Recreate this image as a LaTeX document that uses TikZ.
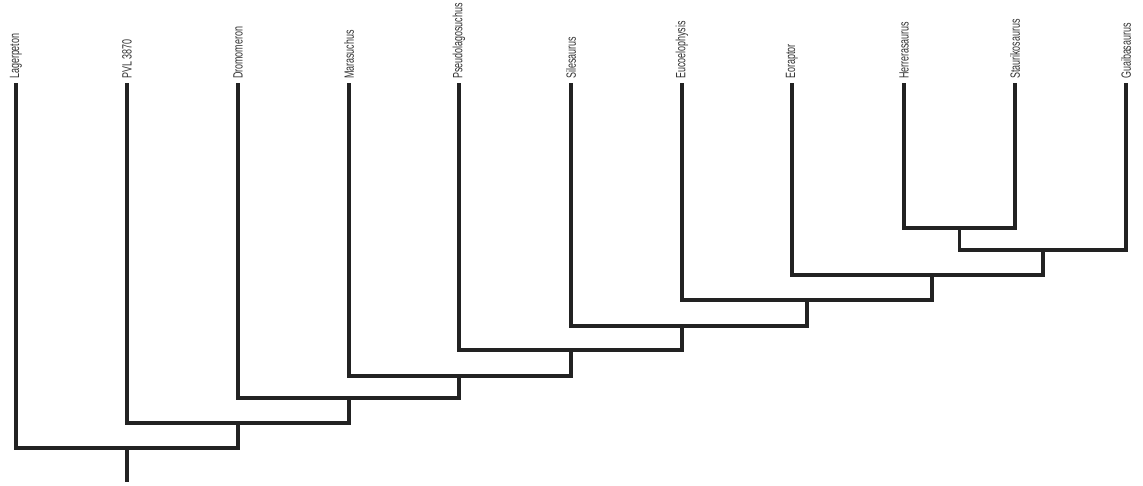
\documentclass[tikz,border=0pt]{standalone}
\usepackage{fontspec}
\setmainfont{Liberation Sans}
\usepackage{xcolor}
\usepackage{graphicx}
\usetikzlibrary{calc, positioning}

\definecolor{cladeline}{HTML}{222222}
\newcommand{\taxname}[1]{\scalebox{1}[1.5]{#1}}
\tikzset{
    taxon/.style={rotate=90, anchor=west, inner sep=1pt, text=black!80, font=\fontsize{5.1}{6}\selectfont},
    branch/.style={draw=cladeline, line width=2pt, line cap=rect}
}

\begin{document}
\begin{tikzpicture}[x=0.02cm, y=-0.02cm]
    % Khung hình theo kích thước ảnh gốc
    \useasboundingbox (0,0) rectangle (1143,485);

    % Tên các taxon ở đầu mỗi nhánh
    \node[taxon] (lag) at (16,81)   {\taxname{Lagerpeton}};
    \node[taxon] (pvl) at (127,81)  {\taxname{PVL 3870}};
    \node[taxon] (dro) at (238,81)  {\taxname{Dromomeron}};
    \node[taxon] (mar) at (349,81)  {\taxname{Marasuchus}};
    \node[taxon] (pse) at (459,81)  {\taxname{Pseudolagosuchus}};
    \node[taxon] (sil) at (571,81)  {\taxname{Silesaurus}};
    \node[taxon] (euc) at (682,81)  {\taxname{Eucoelophysis}};
    \node[taxon] (eor) at (792,81)  {\taxname{Eoraptor}};
    \node[taxon] (her) at (904,81)  {\taxname{Herrerasaurus}};
    \node[taxon] (sta) at (1015,81) {\taxname{Staurikosaurus}};
    \node[taxon] (gua) at (1126,81) {\taxname{Guaibasaurus}};

    % Các điểm nút bên trong cây
    \coordinate (nHS)  at (959.5,228);
    \coordinate (nHSG) at (1043,250);
    \coordinate (nEor) at (932,275);
    \coordinate (nEuc) at (807,300);
    \coordinate (nSil) at (682,326);
    \coordinate (nPse) at (571,350);
    \coordinate (nMar) at (459,376);
    \coordinate (nDro) at (349,398);
    \coordinate (nPvl) at (238,423);
    \coordinate (nLag) at (127,448);
    \coordinate (root) at (127,480);

    % Vẽ các nhánh
    \draw[branch] ([yshift=-2pt]her.west) |- (nHS) -| ([yshift=-2pt]sta.west);
    \draw[branch] ([yshift=-2pt]gua.west) |- (nHSG) -| (nHS);
    \draw[branch] ([yshift=-2pt]eor.west) |- (nEor) -| (nHSG);
    \draw[branch] ([yshift=-2pt]euc.west) |- (nEuc) -| (nEor);
    \draw[branch] ([yshift=-2pt]sil.west) |- (nSil) -| (nEuc);
    \draw[branch] ([yshift=-2pt]pse.west) |- (nPse) -| (nSil);
    \draw[branch] ([yshift=-2pt]mar.west) |- (nMar) -| (nPse);
    \draw[branch] ([yshift=-2pt]dro.west) |- (nDro) -| (nMar);
    \draw[branch] ([yshift=-2pt]pvl.west) |- (nPvl) -| (nDro);
    \draw[branch] ([yshift=-2pt]lag.west) |- (nLag) -| (nPvl);
    \draw[branch] (nLag) -- (root);
\end{tikzpicture}
\end{document}
